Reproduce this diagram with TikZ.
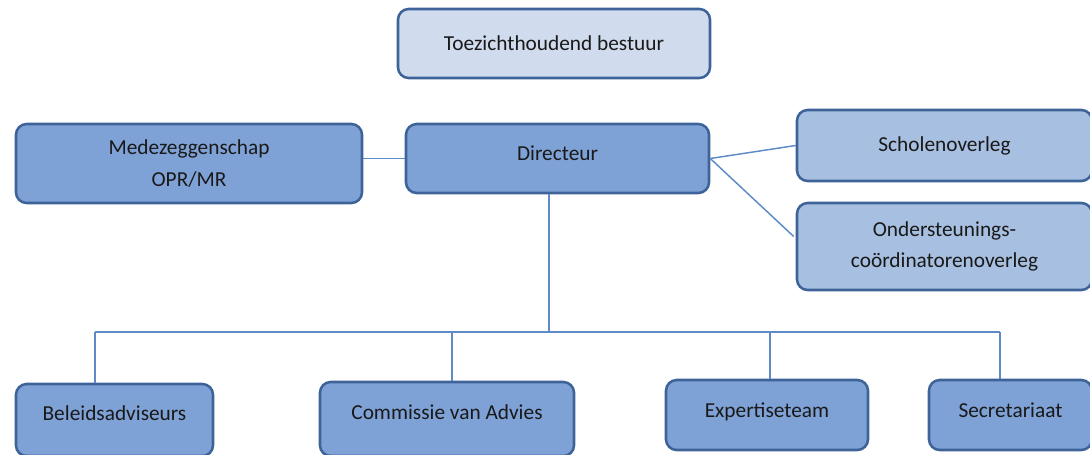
\documentclass[tikz,border=0pt]{standalone}
\usepackage{fontspec}
\setmainfont{Carlito}
\usetikzlibrary{calc}
\definecolor{boxborder}{HTML}{3E6398}
\definecolor{fillmid}{HTML}{7FA2D6}
\definecolor{filllight}{HTML}{A7BFE1}
\definecolor{fillpale}{HTML}{D0DCEE}
\definecolor{linecol}{HTML}{5E8AC8}
\tikzset{
  orgbox/.style={draw=boxborder, line width=1.9pt, rounded corners=8pt, fill=fillmid,
    inner sep=0pt, align=center, font=\fontsize{16}{23.5}\selectfont, text=black!90},
  liftA/.style={text height=11.6pt, text depth=8.4pt},
  liftB/.style={text height=11.6pt, text depth=10.2pt},
  conn/.style={draw=linecol, line width=1.1pt}
}
\begin{document}
\begin{tikzpicture}[x=0.75pt,y=-0.75pt]
\useasboundingbox (0,0) rectangle (1090,454);
\clip (0,0) rectangle (1090,454);
\node[orgbox, fill=fillpale, minimum width={312*0.75pt}, minimum height={69*0.75pt}] (toez) at (554,43.5) {Toezichthoudend bestuur};
\node[orgbox, minimum width={346*0.75pt}, minimum height={79*0.75pt}] (medez) at (189,163.5) {Medezeggenschap\\OPR/MR};
\node[orgbox, liftA, minimum width={303*0.75pt}, minimum height={69*0.75pt}] (dir) at (557.5,158.5) {Directeur};
\node[orgbox, fill=filllight, minimum width={295*0.75pt}, minimum height={71*0.75pt}] (schol) at (944.5,145.5) {Scholenoverleg};
\node[orgbox, fill=filllight, minimum width={295*0.75pt}, minimum height={87*0.75pt}] (onder) at (944.5,246.5) {Ondersteunings-\\coördinatorenoverleg};
\node[orgbox, liftB, minimum width={197*0.75pt}, minimum height={72*0.75pt}] (bel) at (114.5,420) {Beleidsadviseurs};
\node[orgbox, liftB, minimum width={254*0.75pt}, minimum height={74*0.75pt}] (comm) at (447,419) {Commissie van Advies};
\node[orgbox, liftA, minimum width={202*0.75pt}, minimum height={70*0.75pt}] (exp) at (767,415) {Expertiseteam};
\node[orgbox, liftA, minimum width={163*0.75pt}, minimum height={70*0.75pt}] (sec) at (1010.5,415) {Secretariaat};

\coordinate (busM) at (549,332);
\coordinate (busL) at (95,332);
\coordinate (busR) at (1000,332);
\coordinate (dC) at (452,332);
\coordinate (dE) at (770,332);

\draw[conn] (dir.west) -- (dir.west -| medez.east);
\draw[conn] (dir.east) -- (schol.west);
\draw[conn] (dir.east) -- ($(onder.west)+(-2,-10)$);
\draw[conn] (busM |- dir.south) -- (busM);
\draw[conn] (busL) -- (busR);
\draw[conn] (busL) -- (busL |- bel.north);
\draw[conn] (dC) -- (dC |- comm.north);
\draw[conn] (dE) -- (dE |- exp.north);
\draw[conn] (busR) -- (busR |- sec.north);
\end{tikzpicture}
\end{document}
